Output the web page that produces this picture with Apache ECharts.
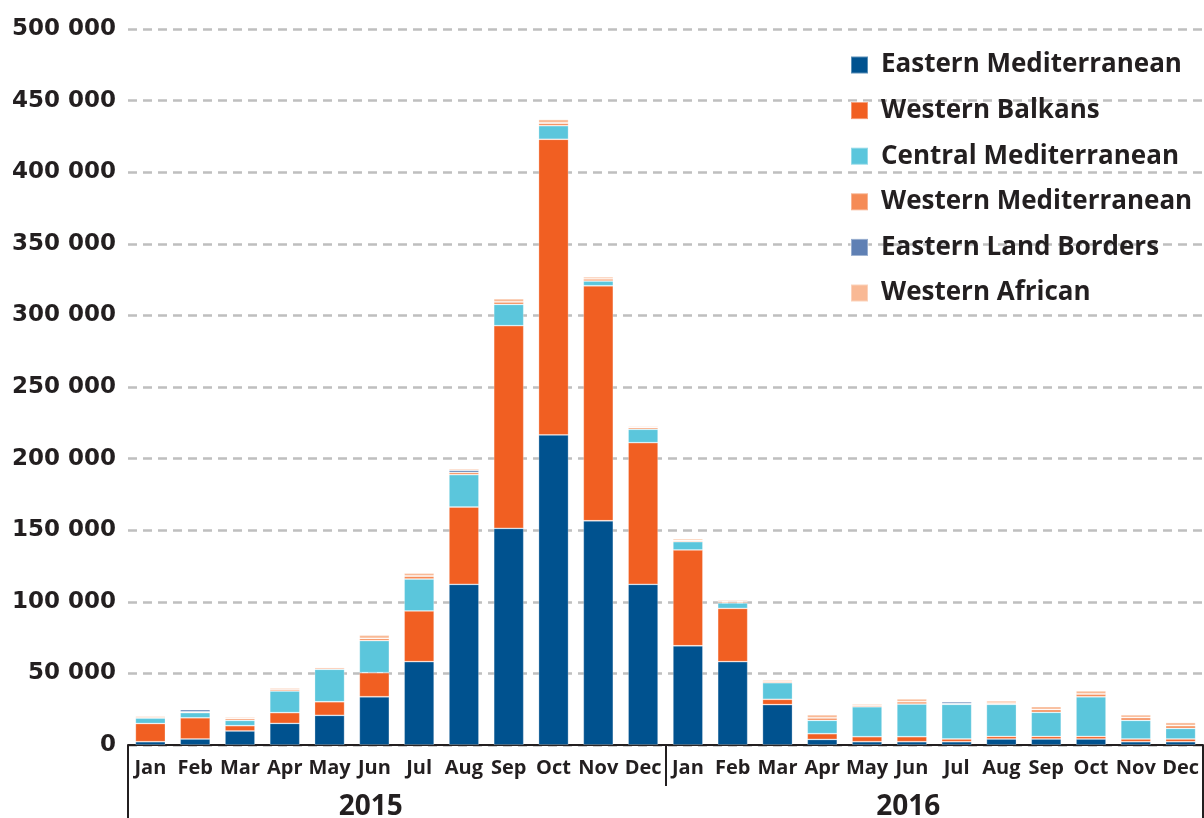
<!DOCTYPE html>
<html>
<head>
<meta charset="utf-8">
<script src="https://cdn.jsdelivr.net/npm/echarts@6/dist/echarts.min.js"></script>
<style>
html,body{margin:0;padding:0;background:#fff;}
#chart{width:1204px;height:818px;}
</style>
</head>
<body>
<div id="chart"></div>
<script>
const months = ["Jan","Feb","Mar","Apr","May","Jun","Jul","Aug","Sep","Oct","Nov","Dec",
                "Jan","Feb","Mar","Apr","May","Jun","Jul","Aug","Sep","Oct","Nov","Dec"];
const years = ["2015","2016"];
const seriesNames = ["Eastern Mediterranean","Western Balkans","Central Mediterranean","Western Mediterranean","Eastern Land Borders","Western African"];
const easternMed = [2300,4200,9800,15100,20700,33700,58200,112200,151300,216500,156600,112200,69300,58200,28200,3900,2300,2300,2300,4200,4200,4200,2300,2300];
const westernBalkans = [12700,14800,3700,7500,9500,16800,35400,54000,141500,206500,164100,98900,66900,37200,3700,4000,3500,3500,1900,1800,1800,1800,1900,1900];
const centralMed = [3800,3600,3700,15100,22700,22400,22300,22600,14900,9500,3300,9400,5800,3800,11600,9300,20900,22800,24200,22400,16800,27700,13000,7400];
const westernMed = [800,600,1200,1200,1000,1500,2000,1500,1700,1700,1500,1200,800,900,1000,1700,1000,1600,500,800,1900,1900,1900,1900];
const easternLand = [100,1500,100,100,100,100,200,1500,100,300,100,100,100,100,100,100,100,100,1300,100,100,100,100,100];
const westernAfrican = [800,300,900,900,600,2200,1900,1000,2100,2300,1300,700,1100,900,900,2100,900,1900,100,1500,2000,2100,1900,2100];
const yTicks = [0,50000,100000,150000,200000,250000,300000,350000,400000,450000,500000];

const colors = ["#00528f","#f15f22","#5bc6dc","#f58b56","#5f80b4","#f9b995"];
const values = [easternMed, westernBalkans, centralMed, westernMed, easternLand, westernAfrican];
const txt = "#231f20";

const chart = echarts.init(document.getElementById('chart'));
chart.setOption({
  animation: false,
  grid: {left: 128, right: 1, top: 29, bottom: 73, containLabel: false, outerBoundsMode: 'none'},
  legend: {
    orient: 'vertical', left: 850, top: 52, padding: 0,
    itemWidth: 17, itemHeight: 17, itemGap: 19.6,
    icon: 'rect',
    data: seriesNames,
    textStyle: {fontFamily: 'Open Sans', fontWeight: 'bold', fontSize: 26, color: txt, padding: [0,0,0,8], lineHeight: 26}
  },
  xAxis: [
    {
      type: 'category', data: months, position: 'bottom',
      axisLine: {show: true, lineStyle: {color: '#231f20', width: 2}},
      axisTick: {show: false},
      axisLabel: {fontFamily: 'Open Sans', fontWeight: 'bold', fontSize: 20, color: txt, margin: 13, interval: 0}
    },
    {
      type: 'category', data: years, position: 'bottom', gridIndex: 0,
      axisLine: {show: false},
      axisTick: {show: true, length: 41, lineStyle: {color: '#231f20', width: 2}},
      axisLabel: {fontFamily: 'Open Sans', fontWeight: 'bold', fontSize: 28, color: txt, margin: 48, padding: [0,52,0,0]}
    },
    {
      type: 'category', data: [''], position: 'bottom', gridIndex: 0,
      axisLine: {show: false},
      axisTick: {show: true, length: 90, lineStyle: {color: '#231f20', width: 2}},
      axisLabel: {show: false}
    }
  ],
  yAxis: {
    type: 'value', min: yTicks[0], max: yTicks[yTicks.length-1], interval: 50000,
    axisLine: {show: false}, axisTick: {show: false},
    axisLabel: {
      fontFamily: 'DejaVu Sans', fontWeight: 'bold', fontSize: 23, color: txt, margin: 12,
      formatter: v => v === 0 ? '0' : String(v).replace(/\B(?=(\d{3})+(?!\d))/g, ' ')
    },
    splitLine: {show: true, lineStyle: {color: '#bfbfbf', width: 2.5, type: [9,6]}}
  },
  series: seriesNames.map((name, i) => ({
    name: name, type: 'bar', stack: 'total', xAxisIndex: 0,
    data: values[i], barWidth: '67%',
    itemStyle: {color: colors[i], borderColor: 'rgba(255,255,255,0.35)', borderWidth: 0.8}
  }))
});
</script>
</body>
</html>
